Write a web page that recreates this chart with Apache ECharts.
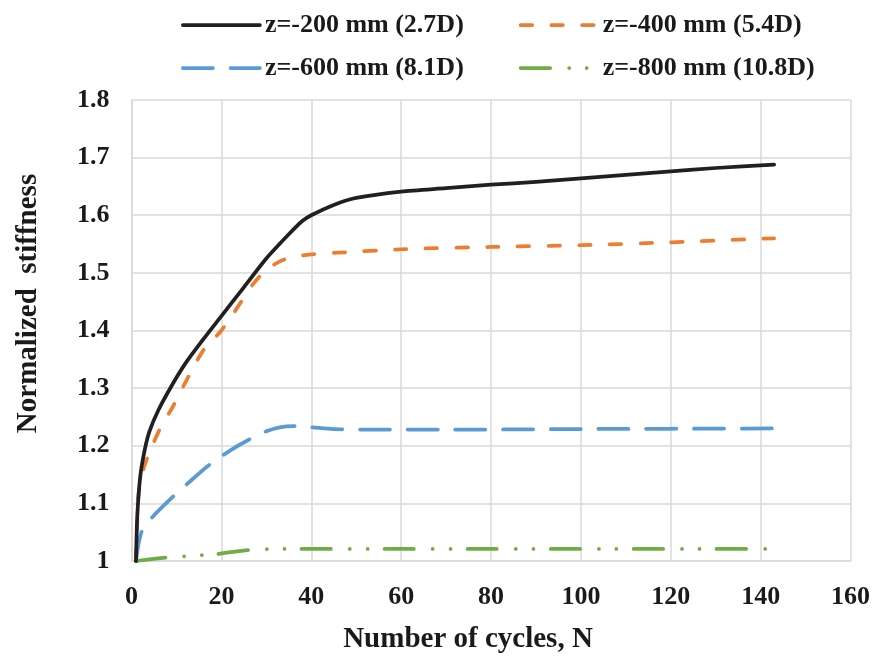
<!DOCTYPE html>
<html>
<head>
<meta charset="utf-8">
<script src="https://cdn.jsdelivr.net/npm/echarts@6/dist/echarts.min.js"></script>
<style>
  html, body { margin: 0; padding: 0; background: #fff; }
  #chart { width: 873px; height: 659px; }
</style>
</head>
<body>
<div id="chart"></div>
<script>
// Number of cycles N and normalized stiffness for each depth
const n200 = [1, 1.3, 2, 3, 4, 6, 9, 12, 16, 20, 25, 30, 35, 38, 40, 45, 50, 60, 70, 80, 90, 100, 110, 120, 130, 143];
const s200 = [1.0, 1.08, 1.15, 1.195, 1.225, 1.262, 1.305, 1.343, 1.385, 1.425, 1.475, 1.525, 1.567, 1.59, 1.6, 1.618, 1.63, 1.641, 1.647, 1.653, 1.658, 1.664, 1.67, 1.676, 1.682, 1.688];

const n400 = [1, 1.5, 2, 3, 5, 7, 9, 12, 16, 20, 24, 27, 30, 33, 36, 40, 46, 60, 80, 100, 120, 143];
const s400 = [1.0, 1.11, 1.14, 1.168, 1.207, 1.24, 1.265, 1.31, 1.366, 1.4, 1.445, 1.48, 1.505, 1.52, 1.528, 1.532, 1.535, 1.541, 1.545, 1.548, 1.553, 1.56];

const n600 = [1, 2.2, 4.5, 9, 13, 17, 22, 26, 30, 33, 36, 40, 45, 55, 70, 100, 143];
const s600 = [1.0, 1.05, 1.075, 1.11, 1.138, 1.165, 1.192, 1.21, 1.225, 1.232, 1.234, 1.232, 1.229, 1.228, 1.228, 1.229, 1.23];

const n800 = [1, 8, 19, 26, 35, 40, 60, 80, 100, 120, 143];
const s800 = [1.0, 1.006, 1.012, 1.019, 1.021, 1.021, 1.021, 1.021, 1.021, 1.021, 1.021];

const seriesNames = ['z=-200 mm (2.7D)', 'z=-400 mm (5.4D)', 'z=-600 mm (8.1D)', 'z=-800 mm (10.8D)'];
const xTicks = { min: 0, max: 160, step: 20 };
const yTicks = { min: 1, max: 1.8, step: 0.1 };

const zip = (xs, ys) => xs.map((x, i) => [x, ys[i]]);

const FONT = "'Liberation Serif', 'Times New Roman', serif";
const GRID_COLOR = '#d9d9d9';
const LINE_W = 3.75;

const lineStyles = [
  { color: '#231f20', width: LINE_W, type: 'solid', cap: 'round', join: 'round' },
  { color: '#ED7D31', width: LINE_W, type: [11.5, 19.2], cap: 'round', join: 'round' },
  { color: '#5B9BD5', width: LINE_W, type: [30, 17.7], cap: 'round', join: 'round' },
  { color: '#70AD47', width: LINE_W, type: [29.5, 19, 0.01, 17.5, 0.01, 17], cap: 'round', join: 'round' }
];
const dataSets = [zip(n200, s200), zip(n400, s400), zip(n600, s600), zip(n800, s800)];

const legendText = {
  fontFamily: FONT, fontWeight: 'bold', fontSize: 26, color: '#1a1a1a', width: 205
};
// legend keys show only the line sample; the marker is made fully transparent
const legendBase = {
  left: 176, itemWidth: 77, itemHeight: 14, itemGap: 55,
  lineStyle: { width: LINE_W, cap: 'round' },
  itemStyle: { opacity: 0 },
  textStyle: legendText
};

const chart = echarts.init(document.getElementById('chart'), null, { renderer: 'canvas' });
chart.setOption({
  animation: false,
  backgroundColor: '#ffffff',
  legend: [
    Object.assign({}, legendBase, { top: 7, data: [seriesNames[0], seriesNames[1]] }),
    Object.assign({}, legendBase, { top: 50, data: [seriesNames[2], seriesNames[3]] })
  ],
  grid: { left: 131.5, right: 19.5, top: 100, bottom: 92, containLabel: false },
  xAxis: {
    type: 'value',
    min: xTicks.min, max: xTicks.max, interval: xTicks.step,
    name: 'Number of cycles, N',
    nameLocation: 'middle',
    nameGap: 64,
    nameTextStyle: { fontFamily: FONT, fontWeight: 'bold', fontSize: 29, color: '#1a1a1a', padding: [0, 46, 0, 0] },
    axisLine: { show: true, lineStyle: { color: GRID_COLOR, width: 1.5 } },
    axisTick: { show: false },
    axisLabel: { margin: 23, fontFamily: FONT, fontWeight: 'bold', fontSize: 26, color: '#1a1a1a' },
    splitLine: { show: true, lineStyle: { color: GRID_COLOR, width: 1.5 } }
  },
  yAxis: {
    type: 'value',
    min: yTicks.min, max: yTicks.max, interval: yTicks.step,
    name: 'Normalized  stiffness',
    nameLocation: 'middle',
    nameGap: 88,
    nameTextStyle: { fontFamily: FONT, fontWeight: 'bold', fontSize: 29, color: '#1a1a1a', padding: [0, 0, 0, 54] },
    axisLine: { show: true, lineStyle: { color: GRID_COLOR, width: 1.5 } },
    axisTick: { show: false },
    axisLabel: {
      margin: 22, fontFamily: FONT, fontWeight: 'bold', fontSize: 26, color: '#1a1a1a',
      formatter: v => String(Math.round(v * 10) / 10)
    },
    splitLine: { show: true, lineStyle: { color: GRID_COLOR, width: 1.5 } }
  },
  series: seriesNames.map((name, i) => ({
    name,
    type: 'line',
    data: dataSets[i],
    smooth: 0.25,
    showSymbol: false,
    symbol: 'none',
    lineStyle: lineStyles[i],
    itemStyle: { color: lineStyles[i].color },
    z: 10 - i
  }))
});
</script>
</body>
</html>
